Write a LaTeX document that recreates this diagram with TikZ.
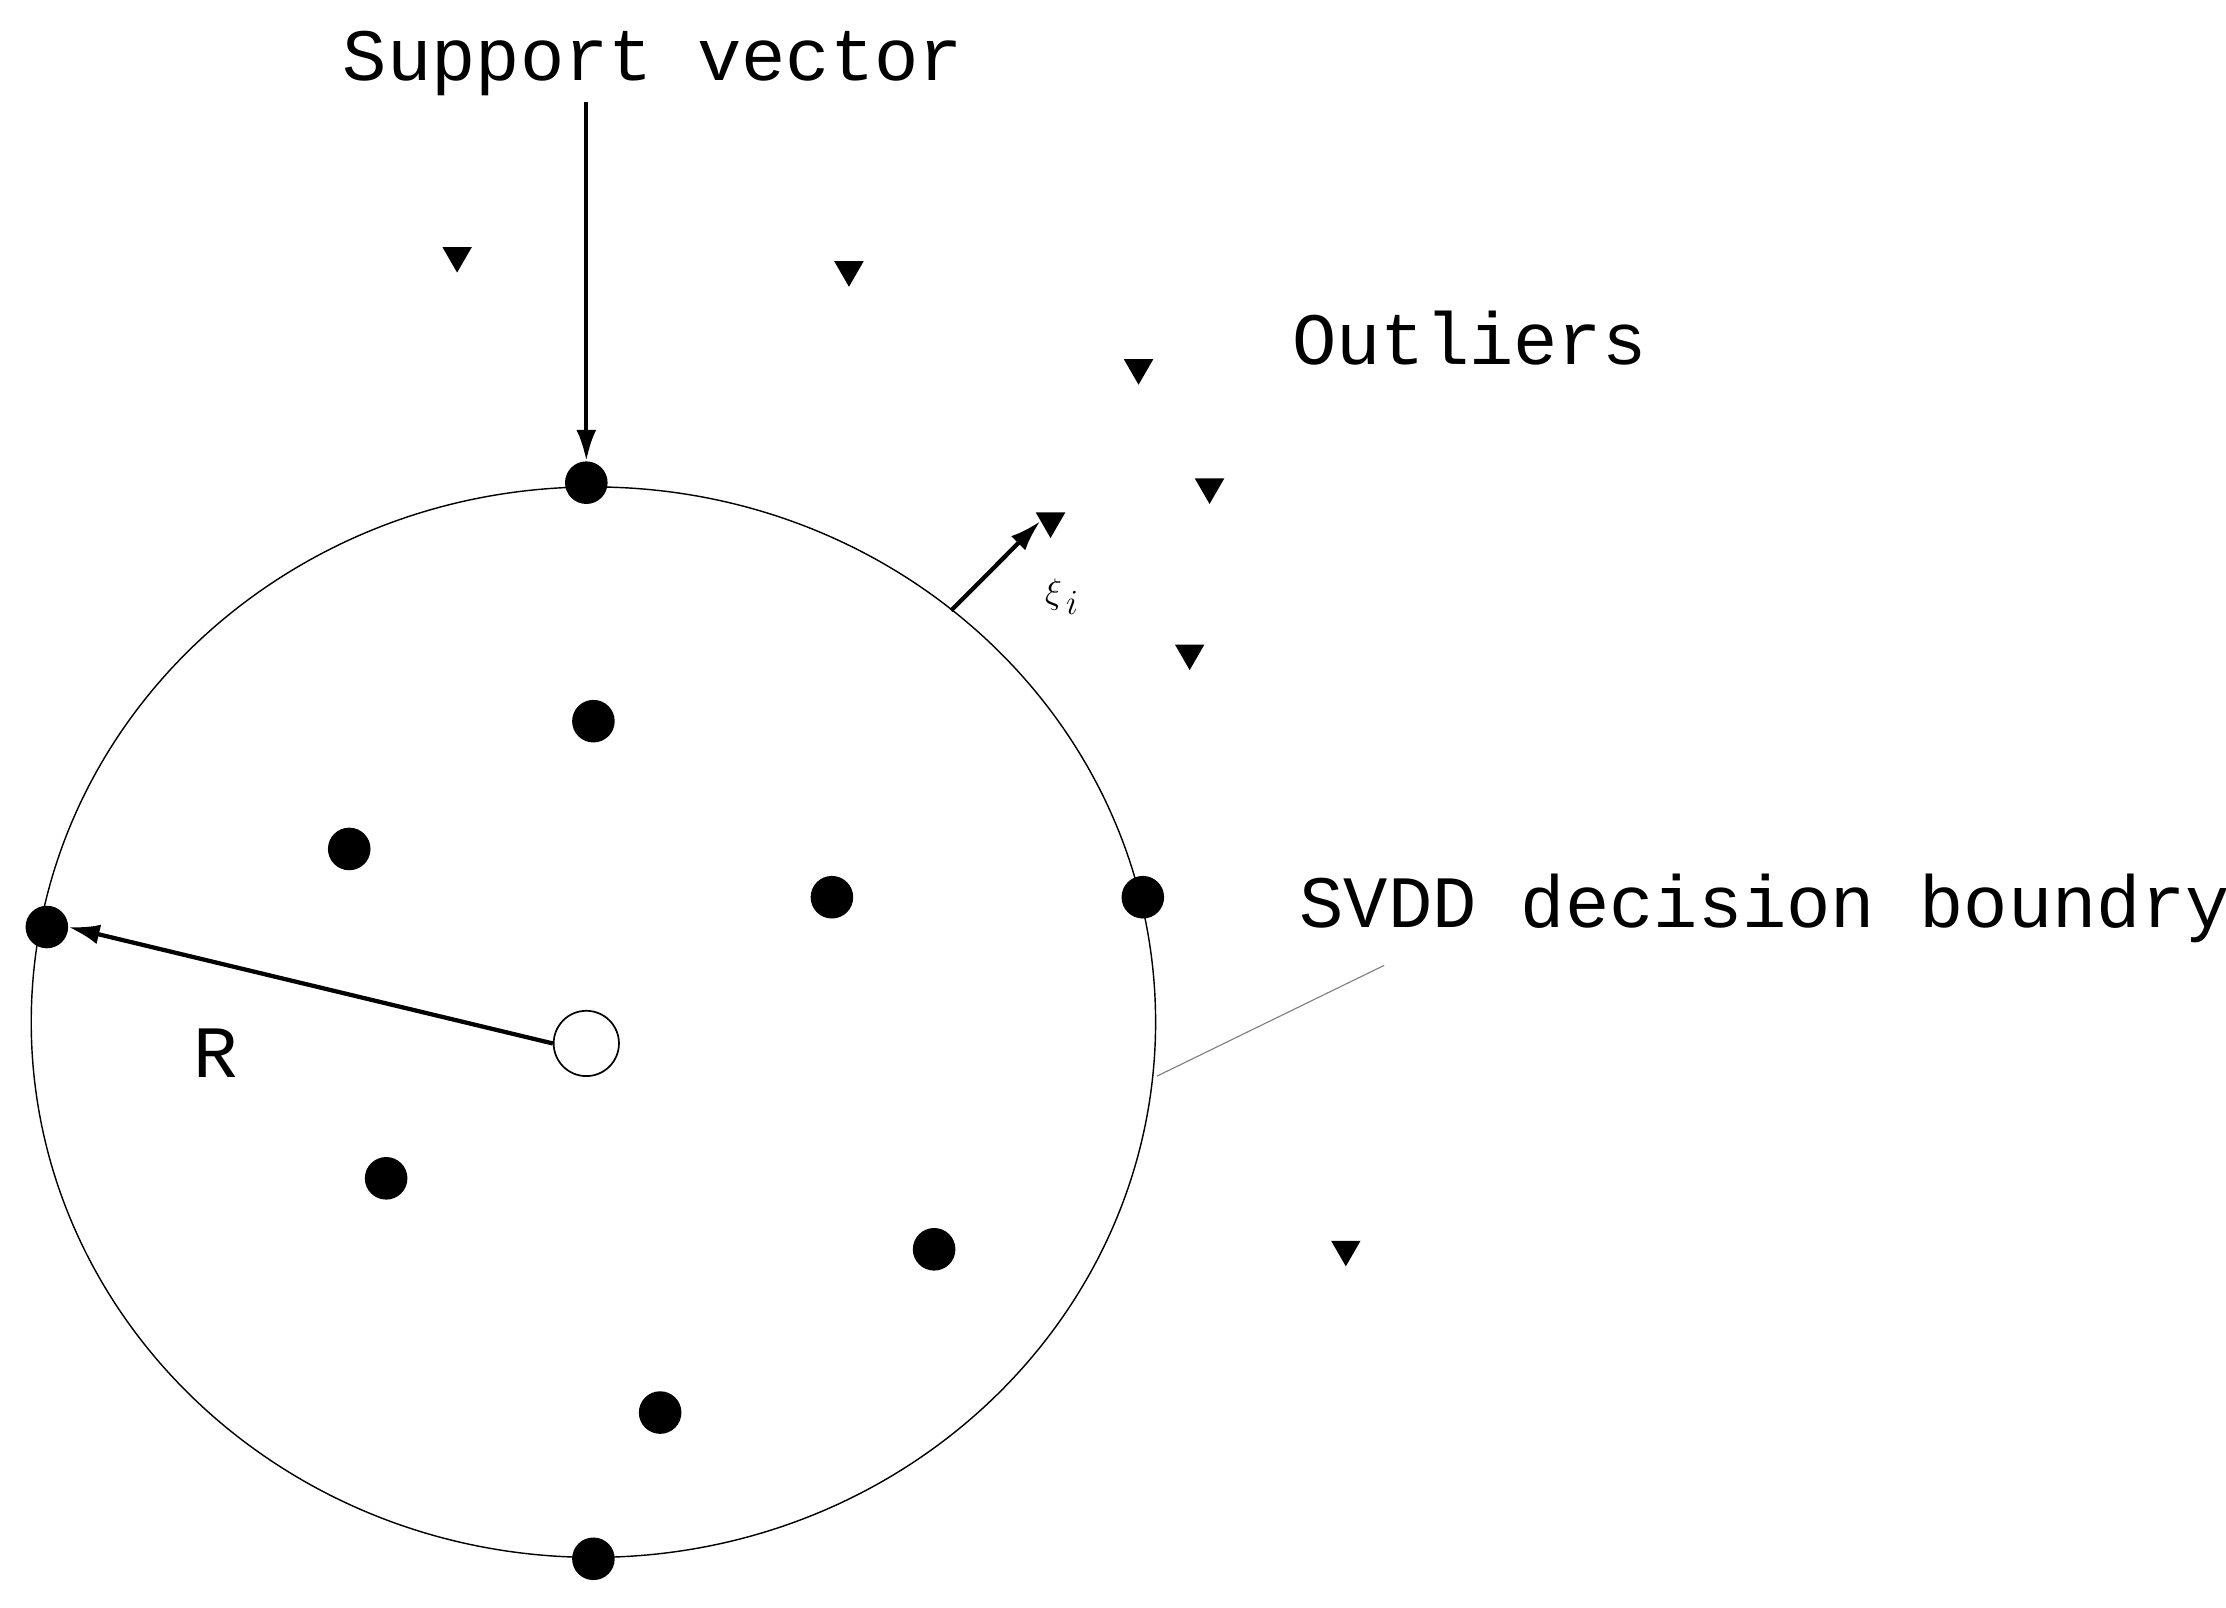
\documentclass[tikz,border=0pt]{standalone}
\usepackage{fontspec}
\setmainfont{Liberation Mono}
\usetikzlibrary{arrows.meta,shapes.geometric}
\begin{document}
\begin{tikzpicture}[x=1pt,y=-1pt,
 dot/.style={circle,fill=black,inner sep=0,minimum size=30pt},
 tri/.style={isosceles triangle,isosceles triangle apex angle=60,shape border rotate=-90,fill=black,inner sep=0,minimum height=18pt},
 arr/.style={-{Latex[length=22pt,width=14pt]},line width=3pt},
 lbl/.style={font=\fontsize{52}{60}\selectfont,inner sep=0}]
\useasboundingbox (0,0) rectangle (1568,1132);
\draw[line width=1pt] (418,720) ellipse [x radius=396, y radius=377];
\node[circle,draw,line width=1.2pt,fill=white,minimum size=46pt,inner sep=0] (c) at (413,735) {};
\foreach \n/\x/\y in {t/413/340,a/418/508,b/246/598,d/586/632,r/805/632,l/33/653,e/272/830,f/658,g/465/995,bt/418/1098}{}
\node[dot] (t) at (413,340) {};
\node[dot] (a) at (418,508) {};
\node[dot] (b) at (246,598) {};
\node[dot] (d) at (586,632) {};
\node[dot] (r) at (805,632) {};
\node[dot] (l) at (33,653) {};
\node[dot] (e) at (272,830) {};
\node[dot] (f) at (658,880) {};
\node[dot] (g) at (465,995) {};
\node[dot] (bt) at (418,1098) {};
\node[tri] (o1) at (322,180) {};
\node[tri] (o2) at (598,190) {};
\node[tri] (o3) at (802,259) {};
\node[tri] (o4) at (852,343) {};
\node[tri] (o5) at (740,367) {};
\node[tri] (o6) at (838,460) {};
\node[tri] (o7) at (948,880) {};
\node[lbl] (sv) at (460,45) {Support vector};
\node[lbl] (out) at (1035,238) {Outliers};
\node[lbl] (svdd) at (1243,640) {SVDD decision boundry};
\node[lbl] (R) at (152,742) {R};
\node[lbl] (xi) at (748,420) {$\xi_{\,i}$};
\coordinate (s1) at (413,72);
\draw[arr] (s1) -- (t.north);
\coordinate (x1) at (670,430);
\draw[arr] (x1) -- (o5.west);
\draw[arr] (c.west) -- (l.east);
\coordinate (b1) at (975,680);
\coordinate (b2) at (815,758);
\draw[line width=0.8pt,gray] (b1) -- (b2);
\end{tikzpicture}
\end{document}
